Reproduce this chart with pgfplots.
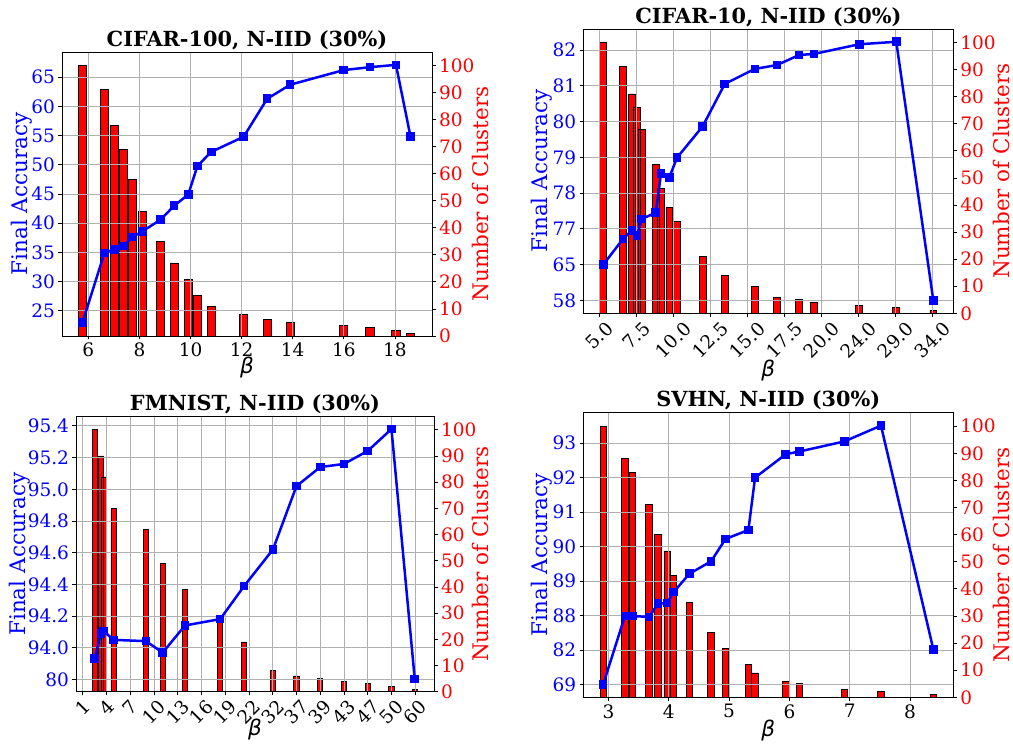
\documentclass[border=0pt]{standalone}
\usepackage{pgfplots}
\pgfplotsset{compat=1.18}
\usepackage{fontspec}
\usepackage{graphicx}
\setmainfont{DejaVu Serif}
\newfontfamily\betafont{DejaVu Sans}
\definecolor{mblue}{HTML}{0000FF}
\definecolor{mred}{HTML}{FF0000}
\definecolor{mgrid}{HTML}{B0B0B0}
\newcommand{\R}[1]{\rotatebox{45}{#1}}
\pgfplotsset{
  base/.style={scale only axis, tick align=outside, major tick length=3.5pt,
    every tick/.style={black, line width=0.8pt},
    axis line style={line width=0.8pt},
    tick label style={font=\fontsize{18.5}{20}\selectfont},
    label style={font=\fontsize{21.5}{24}\selectfont},
    /pgf/number format/assume math mode=true},
  barax/.style={base, axis x line=none, axis y line*=right, ymin=0, ymax=105,
    ytick={0,10,...,100}, yticklabel style={text=mred},
    ylabel style={text=mred, at={(rel axis cs:1,0.5)}, anchor=center, rotate=0, yshift=-48pt},
    ylabel={Number of Clusters}, ybar, bar shift=0pt},
  lineax/.style={base, tick pos=left, grid=major, grid style={mgrid, line width=0.8pt},
    yticklabel style={text=mblue},
    ylabel style={text=mblue, at={(rel axis cs:0,0.5)}, anchor=center, yshift=#1},
    ylabel={Final Accuracy},
    xlabel={\betafont\itshape β},
    title style={font=\bfseries\fontsize{20.8}{23}\selectfont, at={(0.5,1)}, anchor=center, yshift=6pt}},
  xlab/.style={xlabel style={at={(0.5,0)}, anchor=center, yshift=-#1}},
  barsty/.style={fill=mred, draw=black, line width=0.8pt},
  linesty/.style={mblue, line width=2.5pt, mark=square*, mark size=3.8pt, mark options={solid, line width=0pt}},
}
\begin{document}
\begin{tikzpicture}[x=1pt,y=1pt]
\useasboundingbox (0,0) rectangle (1013,744);
% ---------- CIFAR-100 ----------
\begin{axis}[barax, at={(62pt,408pt)}, anchor=south west, width=370pt, height=284pt,
  xmin=4.97, xmax=19.45]
\addplot[barsty, bar width=0.32] coordinates {(5.77,100) (6.63,91) (7.02,78) (7.37,69) (7.73,58) (8.11,46) (8.83,35) (9.36,27) (9.91,21) (10.27,15) (10.81,11) (12.08,8) (13.0,6) (13.9,5) (15.99,4) (17.02,3) (18.04,2) (18.61,1)};
\end{axis}
\begin{axis}[lineax=40pt, xlab=32pt, at={(62pt,408pt)}, anchor=south west, width=370pt, height=284pt,
  xmin=4.97, xmax=19.45, ymin=20.7, ymax=69.3,
  xtick={6,8,...,18}, xticklabels={6,8,10,12,14,16,18},
  ytick={25,30,...,65}, yticklabels={25,30,35,40,45,50,55,60,65},
  title={CIFAR-100, N-IID (30\%)}]
\addplot[linesty] coordinates {(5.77,23.0) (6.63,34.9) (7.02,35.5) (7.37,36.1) (7.73,37.65) (8.11,38.6) (8.83,40.6) (9.36,43.0) (9.91,44.9) (10.27,49.8) (10.81,52.2) (12.08,54.8) (13.0,61.3) (13.9,63.7) (15.99,66.2) (17.02,66.7) (18.04,67.1) (18.61,54.8)};
\end{axis}
% ---------- CIFAR-10 ----------
\begin{axis}[barax, at={(583.3pt,430.7pt)}, anchor=south west, width=370pt, height=284.3pt,
  xmin=3.92, xmax=28.9]
\addplot[barsty, bar width=0.46] coordinates {(5.27,100) (6.60,91) (7.21,81) (7.55,76) (7.86,68) (8.81,55) (9.17,46) (9.73,39) (10.25,34) (11.98,21) (13.47,14) (15.50,10) (17.0,6) (18.49,5) (19.5,4) (22.55,3) (25.05,2) (27.55,1)};
\end{axis}
\begin{axis}[lineax=41.6pt, xlab=57pt, at={(583.3pt,430.7pt)}, anchor=south west, width=370pt, height=284.3pt,
  xmin=3.92, xmax=28.9, ymin=-0.363, ymax=7.587,
  xtick={5,7.5,...,27.5}, xticklabels={\R{5.0},\R{7.5},\R{10.0},\R{12.5},\R{15.0},\R{17.5},\R{20.0},\R{24.0},\R{29.0},\R{34.0}},
  ytick={0,...,7}, yticklabels={58,65,77,78,79,80,81,82},
  title={CIFAR-10, N-IID (30\%)}]
\addplot[linesty] coordinates {(5.27,1.0) (6.60,1.715) (7.21,1.957) (7.55,1.808) (7.86,2.274) (8.81,2.45) (9.17,3.55) (9.73,3.44) (10.25,3.99) (11.98,4.865) (13.47,6.05) (15.50,6.47) (17.0,6.58) (18.49,6.86) (19.5,6.89) (22.55,7.16) (25.05,7.23) (27.55,0.0)};
\end{axis}
% ---------- FMNIST ----------
\begin{axis}[barax, at={(76pt,52.3pt)}, anchor=south west, width=358pt, height=275pt,
  xmin=-0.28, xmax=14.79, ylabel style={yshift=2pt}]
\addplot[barsty, bar width=0.22] coordinates {(0.505,100) (0.77,90) (0.88,82) (1.30,70) (2.66,62) (3.37,49) (4.31,39) (5.79,28) (6.80,19) (8.01,8) (9.0,6) (10.0,5) (11.0,4) (12.0,3) (13.0,2) (13.98,1)};
\end{axis}
\begin{axis}[lineax=56pt, xlab=38pt, at={(76pt,52.3pt)}, anchor=south west, width=358pt, height=275pt,
  xmin=-0.28, xmax=14.79, ymin=-0.385, ymax=8.29,
  xtick={0,...,14}, xticklabels={\R{1},\R{4},\R{7},\R{10},\R{13},\R{16},\R{19},\R{22},\R{32},\R{37},\R{39},\R{43},\R{47},\R{50},\R{60}},
  ytick={0,...,8}, yticklabels={80,94.0,94.2,94.4,94.6,94.8,95.0,95.2,95.4},
  title={FMNIST, N-IID (30\%)}]
\addplot[linesty] coordinates {(0.505,0.653) (0.77,1.45) (0.88,1.53) (1.30,1.25) (2.66,1.21) (3.37,0.85) (4.31,1.705) (5.79,1.905) (6.80,2.95) (8.01,4.1) (9.0,6.1) (10.0,6.7) (11.0,6.8) (12.0,7.21) (13.0,7.9) (13.98,0.01)};
\end{axis}
% ---------- SVHN ----------
\begin{axis}[barax, at={(583.3pt,46.7pt)}, anchor=south west, width=370pt, height=284.6pt,
  xmin=2.58, xmax=8.72]
\addplot[barsty, bar width=0.105] coordinates {(2.91,100) (3.27,88) (3.40,83) (3.67,71) (3.82,60) (3.97,54) (4.08,45) (4.34,35) (4.70,24) (4.94,18) (5.32,12) (5.43,9) (5.94,6) (6.17,5) (6.91,3) (7.52,2) (8.39,1)};
\end{axis}
\begin{axis}[lineax=41.6pt, xlab=33pt, at={(583.3pt,46.7pt)}, anchor=south west, width=370pt, height=284.6pt,
  xmin=2.58, xmax=8.72, ymin=-0.375, ymax=7.885,
  xtick={3,...,8}, xticklabels={3,4,5,6,7,8},
  ytick={0,...,7}, yticklabels={69,82,88,89,90,91,92,93},
  title={SVHN, N-IID (30\%)}]
\addplot[linesty] coordinates {(2.91,0) (3.27,1.98) (3.40,1.98) (3.67,1.96) (3.82,2.34) (3.97,2.36) (4.08,2.68) (4.34,3.21) (4.70,3.57) (4.94,4.22) (5.32,4.48) (5.43,6.0) (5.94,6.68) (6.17,6.76) (6.91,7.05) (7.52,7.51) (8.39,1.006)};
\end{axis}
\end{tikzpicture}
\end{document}
